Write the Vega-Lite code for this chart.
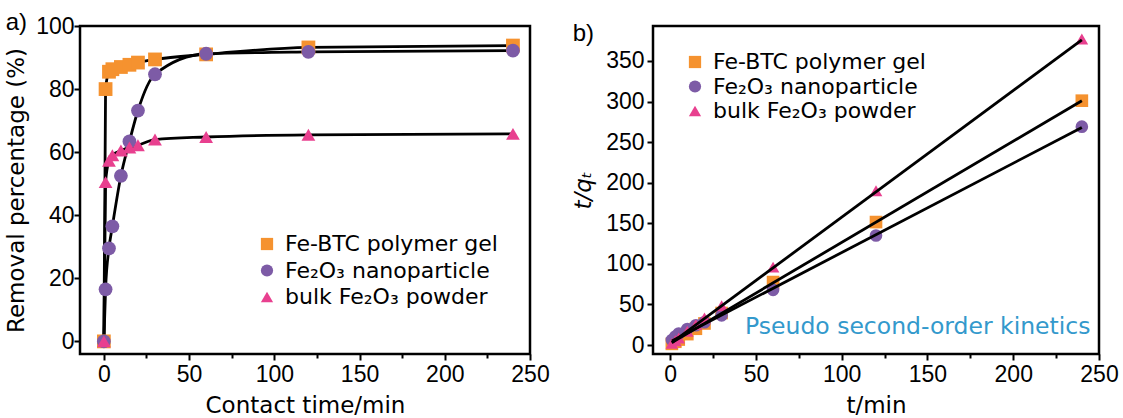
{
  "$schema": "https://vega.github.io/schema/vega-lite/v6.json",
  "background": "white",
  "padding": {"left": 4, "top": 9, "right": 0, "bottom": 0},
  "spacing": 20,
  "resolve": {
    "scale": {"color": "independent", "shape": "independent"},
    "legend": {"color": "independent", "shape": "independent"}
  },
  "config": {
    "font": "Liberation Sans",
    "view": {"stroke": "black", "strokeWidth": 2.5},
    "axis": {
      "domain": false, "grid": false, "tickColor": "black", "tickWidth": 2,
      "labelFontSize": 23, "labelColor": "black", "labelFont": "Liberation Sans",
      "titleFontSize": 23, "titleFontWeight": "normal", "titleColor": "black", "titleFont": "DejaVu Sans",
      "labelFlush": false, "labelOverlap": false
    },
    "legend": {
      "orient": "none", "title": null, "padding": 0, "labelFontSize": 22, "labelFont": "DejaVu Sans",
      "labelColor": "black", "symbolSize": 150, "symbolStrokeWidth": 0, "symbolOpacity": 1, "labelOffset": 7, "labelLimit": 500
    },
    "title": {"fontSize": 24, "fontWeight": "normal", "anchor": "start", "frame": "bounds", "offset": -20, "font": "Liberation Sans", "color": "black"}
  },
  "datasets": {
    "removal": [
      {"series": "Fe-BTC polymer gel", "t": 0, "v": 0},
      {"series": "Fe-BTC polymer gel", "t": 1, "v": 80},
      {"series": "Fe-BTC polymer gel", "t": 3, "v": 85.5},
      {"series": "Fe-BTC polymer gel", "t": 5, "v": 86.3},
      {"series": "Fe-BTC polymer gel", "t": 10, "v": 87},
      {"series": "Fe-BTC polymer gel", "t": 15, "v": 87.7},
      {"series": "Fe-BTC polymer gel", "t": 20, "v": 88.4},
      {"series": "Fe-BTC polymer gel", "t": 30, "v": 89.4},
      {"series": "Fe-BTC polymer gel", "t": 60, "v": 91},
      {"series": "Fe-BTC polymer gel", "t": 120, "v": 93.2},
      {"series": "Fe-BTC polymer gel", "t": 240, "v": 93.8},
      {"series": "Fe₂O₃ nanoparticle", "t": 0, "v": 0},
      {"series": "Fe₂O₃ nanoparticle", "t": 1, "v": 16.5},
      {"series": "Fe₂O₃ nanoparticle", "t": 3, "v": 29.5},
      {"series": "Fe₂O₃ nanoparticle", "t": 5, "v": 36.5},
      {"series": "Fe₂O₃ nanoparticle", "t": 10, "v": 52.5},
      {"series": "Fe₂O₃ nanoparticle", "t": 15, "v": 63.4},
      {"series": "Fe₂O₃ nanoparticle", "t": 20, "v": 73.2},
      {"series": "Fe₂O₃ nanoparticle", "t": 30, "v": 84.7},
      {"series": "Fe₂O₃ nanoparticle", "t": 60, "v": 91.2},
      {"series": "Fe₂O₃ nanoparticle", "t": 120, "v": 91.8},
      {"series": "Fe₂O₃ nanoparticle", "t": 240, "v": 92.2},
      {"series": "bulk Fe₂O₃ powder", "t": 0, "v": 0},
      {"series": "bulk Fe₂O₃ powder", "t": 1, "v": 50.5},
      {"series": "bulk Fe₂O₃ powder", "t": 3, "v": 57.3},
      {"series": "bulk Fe₂O₃ powder", "t": 5, "v": 59},
      {"series": "bulk Fe₂O₃ powder", "t": 10, "v": 60.5},
      {"series": "bulk Fe₂O₃ powder", "t": 15, "v": 61.5},
      {"series": "bulk Fe₂O₃ powder", "t": 20, "v": 62.2},
      {"series": "bulk Fe₂O₃ powder", "t": 30, "v": 64},
      {"series": "bulk Fe₂O₃ powder", "t": 60, "v": 64.8},
      {"series": "bulk Fe₂O₃ powder", "t": 120, "v": 65.5},
      {"series": "bulk Fe₂O₃ powder", "t": 240, "v": 65.8}
    ],
    "kinetics": [
      {"series": "Fe-BTC polymer gel", "t": 1, "v": 1.5},
      {"series": "Fe-BTC polymer gel", "t": 3, "v": 4.1},
      {"series": "Fe-BTC polymer gel", "t": 5, "v": 6.8},
      {"series": "Fe-BTC polymer gel", "t": 10, "v": 13.5},
      {"series": "Fe-BTC polymer gel", "t": 15, "v": 20.1},
      {"series": "Fe-BTC polymer gel", "t": 20, "v": 26.6},
      {"series": "Fe-BTC polymer gel", "t": 30, "v": 39.5},
      {"series": "Fe-BTC polymer gel", "t": 60, "v": 77.6},
      {"series": "Fe-BTC polymer gel", "t": 120, "v": 151.5},
      {"series": "Fe-BTC polymer gel", "t": 240, "v": 301},
      {"series": "Fe₂O₃ nanoparticle", "t": 1, "v": 6.3},
      {"series": "Fe₂O₃ nanoparticle", "t": 3, "v": 10.5},
      {"series": "Fe₂O₃ nanoparticle", "t": 5, "v": 14.2},
      {"series": "Fe₂O₃ nanoparticle", "t": 10, "v": 19.7},
      {"series": "Fe₂O₃ nanoparticle", "t": 15, "v": 24.4},
      {"series": "Fe₂O₃ nanoparticle", "t": 20, "v": 28.2},
      {"series": "Fe₂O₃ nanoparticle", "t": 30, "v": 36.6},
      {"series": "Fe₂O₃ nanoparticle", "t": 60, "v": 68},
      {"series": "Fe₂O₃ nanoparticle", "t": 120, "v": 135},
      {"series": "Fe₂O₃ nanoparticle", "t": 240, "v": 269},
      {"series": "bulk Fe₂O₃ powder", "t": 1, "v": 2.1},
      {"series": "bulk Fe₂O₃ powder", "t": 3, "v": 5.4},
      {"series": "bulk Fe₂O₃ powder", "t": 5, "v": 8.8},
      {"series": "bulk Fe₂O₃ powder", "t": 10, "v": 17.1},
      {"series": "bulk Fe₂O₃ powder", "t": 15, "v": 25.2},
      {"series": "bulk Fe₂O₃ powder", "t": 20, "v": 33.3},
      {"series": "bulk Fe₂O₃ powder", "t": 30, "v": 48.5},
      {"series": "bulk Fe₂O₃ powder", "t": 60, "v": 96},
      {"series": "bulk Fe₂O₃ powder", "t": 120, "v": 190},
      {"series": "bulk Fe₂O₃ powder", "t": 240, "v": 377}
    ],
    "fits": [
      {"series": "Fe-BTC polymer gel", "t": 1, "v": 3},
      {"series": "Fe-BTC polymer gel", "t": 240, "v": 301},
      {"series": "Fe₂O₃ nanoparticle", "t": 1, "v": 5},
      {"series": "Fe₂O₃ nanoparticle", "t": 240, "v": 268},
      {"series": "bulk Fe₂O₃ powder", "t": 1, "v": 3},
      {"series": "bulk Fe₂O₃ powder", "t": 240, "v": 376}
    ],
    "note": [
      {"label": "Pseudo second-order kinetics", "t": 245, "v": 22}
    ]
  },
  "hconcat": [
    {
      "width": 450, "height": 328,
      "title": {"text": "a)"},
      "layer": [
        {
          "data": {"name": "removal"},
          "mark": {"type": "line", "color": "black", "strokeWidth": 2.8, "interpolate": "monotone"},
          "encoding": {
            "x": {"field": "t", "type": "quantitative",
              "scale": {"domain": [-14, 250], "nice": false, "zero": false},
              "axis": {"title": "Contact time/min", "values": [0,25,50,75,100,125,150,175,200,225,250],
                "labelExpr": "datum.value % 50 === 0 ? datum.label : ''",
                "tickSize": {"condition": {"test": "datum.value % 50 === 0", "value": 6}, "value": 4},
                "labelPadding": 3, "titlePadding": 8}},
            "y": {"field": "v", "type": "quantitative",
              "scale": {"domain": [-4, 100], "nice": false, "zero": false},
              "axis": {"title": "Removal percentage (%)", "values": [0,10,20,30,40,50,60,70,80,90,100],
                "labelExpr": "datum.value % 20 === 0 ? datum.label : ''",
                "tickSize": {"condition": {"test": "datum.value % 20 === 0", "value": 6}, "value": 4},
                "labelPadding": 0, "titlePadding": 7}},
            "detail": {"field": "series"}
          }
        },
        {
          "data": {"name": "removal"},
          "mark": {"type": "point", "filled": true, "opacity": 1, "size": 190},
          "encoding": {
            "x": {"field": "t", "type": "quantitative"},
            "y": {"field": "v", "type": "quantitative"},
            "color": {"field": "series", "type": "nominal",
              "scale": {"domain": ["Fe-BTC polymer gel", "Fe₂O₃ nanoparticle", "bulk Fe₂O₃ powder"], "range": ["#F5922F", "#7D5BA6", "#E8408F"]},
              "legend": {"legendX": 176, "legendY": 207, "rowPadding": 4.5}},
            "shape": {"field": "series", "type": "nominal",
              "scale": {"domain": ["Fe-BTC polymer gel", "Fe₂O₃ nanoparticle", "bulk Fe₂O₃ powder"], "range": ["square", "circle", "triangle-up"]},
              "legend": {"legendX": 176, "legendY": 207, "rowPadding": 4.5}}
          }
        }
      ]
    },
    {
      "width": 446, "height": 328,
      "title": {"text": "b)"},
      "layer": [
        {
          "data": {"name": "kinetics"},
          "mark": {"type": "point", "filled": true, "opacity": 1, "size": 160},
          "encoding": {
            "x": {"field": "t", "type": "quantitative",
              "scale": {"domain": [-10, 250], "nice": false, "zero": false},
              "axis": {"title": "t/min", "values": [0,25,50,75,100,125,150,175,200,225,250],
                "labelExpr": "datum.value % 50 === 0 ? datum.label : ''",
                "tickSize": {"condition": {"test": "datum.value % 50 === 0", "value": 6}, "value": 4},
                "labelPadding": 3, "titlePadding": 8}},
            "y": {"field": "v", "type": "quantitative",
              "scale": {"domain": [-11, 393], "nice": false, "zero": false},
              "axis": {"title": "t/qₜ", "titleFontStyle": "italic", "values": [0,25,50,75,100,125,150,175,200,225,250,275,300,325,350,375],
                "labelExpr": "datum.value % 50 === 0 ? datum.label : ''",
                "tickSize": {"condition": {"test": "datum.value % 50 === 0", "value": 6}, "value": 4},
                "labelPadding": 3, "titlePadding": 10}},
            "color": {"field": "series", "type": "nominal",
              "scale": {"domain": ["Fe-BTC polymer gel", "Fe₂O₃ nanoparticle", "bulk Fe₂O₃ powder"], "range": ["#F5922F", "#7D5BA6", "#E8408F"]},
              "legend": {"legendX": 31, "legendY": 25, "rowPadding": 2.5}},
            "shape": {"field": "series", "type": "nominal",
              "scale": {"domain": ["Fe-BTC polymer gel", "Fe₂O₃ nanoparticle", "bulk Fe₂O₃ powder"], "range": ["square", "circle", "triangle-up"]},
              "legend": {"legendX": 31, "legendY": 25, "rowPadding": 2.5}}
          }
        },
        {
          "data": {"name": "fits"},
          "mark": {"type": "line", "color": "black", "strokeWidth": 2.8},
          "encoding": {
            "x": {"field": "t", "type": "quantitative"},
            "y": {"field": "v", "type": "quantitative"},
            "detail": {"field": "series"}
          }
        },
        {
          "data": {"name": "note"},
          "mark": {"type": "text", "align": "right", "baseline": "middle", "fontSize": 23.5, "color": "#3399CC", "font": "DejaVu Sans"},
          "encoding": {
            "x": {"field": "t", "type": "quantitative"},
            "y": {"field": "v", "type": "quantitative"},
            "text": {"field": "label"}
          }
        }
      ]
    }
  ]
}
